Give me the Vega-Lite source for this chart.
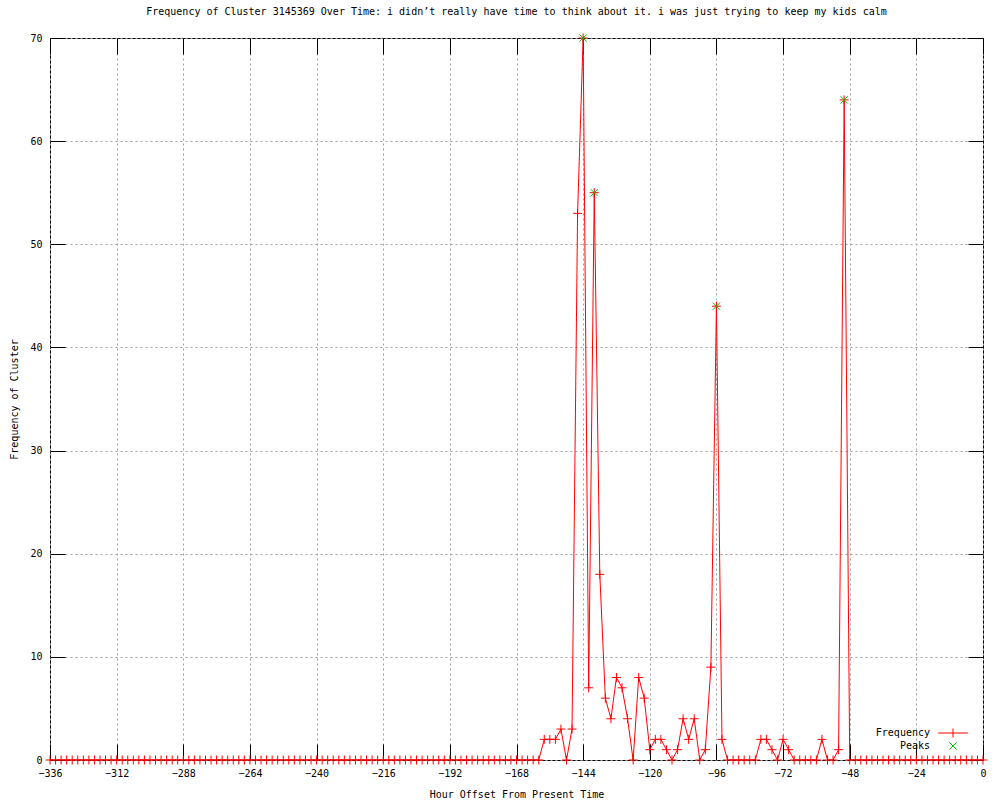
{
  "$schema": "https://vega.github.io/schema/vega-lite/v6.json",
  "width": 933,
  "height": 722,
  "autosize": "none",
  "padding": {"left": 50, "top": 38, "right": 17, "bottom": 40},
  "background": "white",
  "title": {
    "text": "Frequency of Cluster 3145369 Over Time: i didn’t really have time to think about it. i was just trying to keep my kids calm",
    "font": "DejaVu Sans Mono", "fontSize": 10, "fontWeight": "normal", "color": "black", "offset": 15, "anchor": "middle"
  },
  "config": {
    "view": {"stroke": "black", "strokeWidth": 1},
    "axis": {"labelFont": "DejaVu Sans Mono", "labelFontSize": 10, "labelColor": "black", "titleFont": "DejaVu Sans Mono", "titleFontSize": 10, "titleFontWeight": "normal", "titleColor": "black", "tickColor": "black", "domainColor": "black", "gridColor": "#a0a0a0", "gridDash": [2, 3], "gridOpacity": 1, "labelFlush": false, "labelOverlap": false},
    "legend": {"labelFont": "DejaVu Sans Mono", "labelFontSize": 10, "labelColor": "black"}
  },
  "datasets": {
    "freq": [
      {"h":-336,"f":0},{"h":-334,"f":0},{"h":-332,"f":0},{"h":-330,"f":0},{"h":-328,"f":0},{"h":-326,"f":0},{"h":-324,"f":0},{"h":-322,"f":0},{"h":-320,"f":0},{"h":-318,"f":0},
      {"h":-316,"f":0},{"h":-314,"f":0},{"h":-312,"f":0},{"h":-310,"f":0},{"h":-308,"f":0},{"h":-306,"f":0},{"h":-304,"f":0},{"h":-302,"f":0},{"h":-300,"f":0},{"h":-298,"f":0},
      {"h":-296,"f":0},{"h":-294,"f":0},{"h":-292,"f":0},{"h":-290,"f":0},{"h":-288,"f":0},{"h":-286,"f":0},{"h":-284,"f":0},{"h":-282,"f":0},{"h":-280,"f":0},{"h":-278,"f":0},
      {"h":-276,"f":0},{"h":-274,"f":0},{"h":-272,"f":0},{"h":-270,"f":0},{"h":-268,"f":0},{"h":-266,"f":0},{"h":-264,"f":0},{"h":-262,"f":0},{"h":-260,"f":0},{"h":-258,"f":0},
      {"h":-256,"f":0},{"h":-254,"f":0},{"h":-252,"f":0},{"h":-250,"f":0},{"h":-248,"f":0},{"h":-246,"f":0},{"h":-244,"f":0},{"h":-242,"f":0},{"h":-240,"f":0},{"h":-238,"f":0},
      {"h":-236,"f":0},{"h":-234,"f":0},{"h":-232,"f":0},{"h":-230,"f":0},{"h":-228,"f":0},{"h":-226,"f":0},{"h":-224,"f":0},{"h":-222,"f":0},{"h":-220,"f":0},{"h":-218,"f":0},
      {"h":-216,"f":0},{"h":-214,"f":0},{"h":-212,"f":0},{"h":-210,"f":0},{"h":-208,"f":0},{"h":-206,"f":0},{"h":-204,"f":0},{"h":-202,"f":0},{"h":-200,"f":0},{"h":-198,"f":0},
      {"h":-196,"f":0},{"h":-194,"f":0},{"h":-192,"f":0},{"h":-190,"f":0},{"h":-188,"f":0},{"h":-186,"f":0},{"h":-184,"f":0},{"h":-182,"f":0},{"h":-180,"f":0},{"h":-178,"f":0},
      {"h":-176,"f":0},{"h":-174,"f":0},{"h":-172,"f":0},{"h":-170,"f":0},{"h":-168,"f":0},{"h":-166,"f":0},{"h":-164,"f":0},{"h":-162,"f":0},{"h":-160,"f":0},{"h":-158,"f":2},
      {"h":-156,"f":2},{"h":-154,"f":2},{"h":-152,"f":3},{"h":-150,"f":0},{"h":-148,"f":3},{"h":-146,"f":53},{"h":-144,"f":70},{"h":-142,"f":7},{"h":-140,"f":55},{"h":-138,"f":18},
      {"h":-136,"f":6},{"h":-134,"f":4},{"h":-132,"f":8},{"h":-130,"f":7},{"h":-128,"f":4},{"h":-126,"f":0},{"h":-124,"f":8},{"h":-122,"f":6},{"h":-120,"f":1},{"h":-118,"f":2},
      {"h":-116,"f":2},{"h":-114,"f":1},{"h":-112,"f":0},{"h":-110,"f":1},{"h":-108,"f":4},{"h":-106,"f":2},{"h":-104,"f":4},{"h":-102,"f":0},{"h":-100,"f":1},{"h":-98,"f":9},
      {"h":-96,"f":44},{"h":-94,"f":2},{"h":-92,"f":0},{"h":-90,"f":0},{"h":-88,"f":0},{"h":-86,"f":0},{"h":-84,"f":0},{"h":-82,"f":0},{"h":-80,"f":2},{"h":-78,"f":2},
      {"h":-76,"f":1},{"h":-74,"f":0},{"h":-72,"f":2},{"h":-70,"f":1},{"h":-68,"f":0},{"h":-66,"f":0},{"h":-64,"f":0},{"h":-62,"f":0},{"h":-60,"f":0},{"h":-58,"f":2},
      {"h":-56,"f":0},{"h":-54,"f":0},{"h":-52,"f":1},{"h":-50,"f":64},{"h":-48,"f":0},{"h":-46,"f":0},{"h":-44,"f":0},{"h":-42,"f":0},{"h":-40,"f":0},{"h":-38,"f":0},
      {"h":-36,"f":0},{"h":-34,"f":0},{"h":-32,"f":0},{"h":-30,"f":0},{"h":-28,"f":0},{"h":-26,"f":0},{"h":-24,"f":0},{"h":-22,"f":0},{"h":-20,"f":0},{"h":-18,"f":0},
      {"h":-16,"f":0},{"h":-14,"f":0},{"h":-12,"f":0},{"h":-10,"f":0},{"h":-8,"f":0},{"h":-6,"f":0},{"h":-4,"f":0},{"h":-2,"f":0},{"h":0,"f":0}
    ],
    "peaks": [
      {"h":-144,"f":70},{"h":-140,"f":55},{"h":-96,"f":44},{"h":-50,"f":64}
    ]
  },
  "resolve": {"axis": {"x": "independent", "y": "independent"}},
  "layer": [
    {
      "data": {"name": "freq"},
      "mark": {"type": "line", "color": "#ff0000", "strokeWidth": 1, "clip": true},
      "encoding": {
        "x": {"field": "h", "type": "quantitative", "scale": {"domain": [-336, 0], "nice": false, "zero": false},
          "axis": {"title": "Hour Offset From Present Time", "values": [-336,-312,-288,-264,-240,-216,-192,-168,-144,-120,-96,-72,-48,-24,0], "tickSize": -16, "labelPadding": 24, "titlePadding": 11, "grid": true, "domain": false}},
        "y": {"field": "f", "type": "quantitative", "scale": {"domain": [0, 70], "nice": false},
          "axis": {"title": "Frequency of Cluster", "values": [0,10,20,30,40,50,60,70], "tickSize": -15, "labelPadding": 23, "titlePadding": 10, "grid": true, "domain": false}}
      }
    },
    {
      "data": {"name": "freq"},
      "mark": {"type": "point", "shape": "M-1,0L1,0M0,-1L0,1", "size": 81, "filled": false, "strokeWidth": 1, "opacity": 1},
      "encoding": {
        "x": {"field": "h", "type": "quantitative", "axis": null},
        "y": {"field": "f", "type": "quantitative", "axis": null},
        "color": {"datum": "Frequency", "type": "nominal",
          "scale": {"domain": ["Frequency", "Peaks"], "range": ["#ff0000", "#00c000"]},
          "legend": {"title": null, "orient": "none", "legendX": 898, "legendY": 690, "padding": 0, "labelAlign": "right", "labelOffset": -28, "symbolSize": 81, "symbolStrokeWidth": 1, "rowPadding": 0}}
      }
    },
    {
      "data": {"name": "peaks"},
      "mark": {"type": "point", "size": 81, "filled": false, "strokeWidth": 1, "opacity": 1},
      "encoding": {
        "x": {"field": "h", "type": "quantitative",
          "axis": {"orient": "top", "title": null, "labels": false, "domain": false, "grid": false, "tickSize": -16, "values": [-336,-312,-288,-264,-240,-216,-192,-168,-144,-120,-96,-72,-48,-24,0]}},
        "y": {"field": "f", "type": "quantitative",
          "axis": {"orient": "right", "title": null, "labels": false, "domain": false, "grid": false, "tickSize": -15, "values": [0,10,20,30,40,50,60,70]}},
        "color": {"datum": "Peaks", "type": "nominal"},
        "shape": {"datum": "Peaks", "type": "nominal",
          "scale": {"domain": ["Frequency", "Peaks"], "range": ["M-3.3,0L3.3,0M0,-1L0,1", "M-0.8,-0.8L0.8,0.8M-0.8,0.8L0.8,-0.8"]},
          "legend": {"title": null, "orient": "none", "legendX": 898, "legendY": 690, "padding": 0, "labelAlign": "right", "labelOffset": -28, "symbolSize": 81, "symbolStrokeWidth": 1, "rowPadding": 0}}
      }
    }
  ]
}
